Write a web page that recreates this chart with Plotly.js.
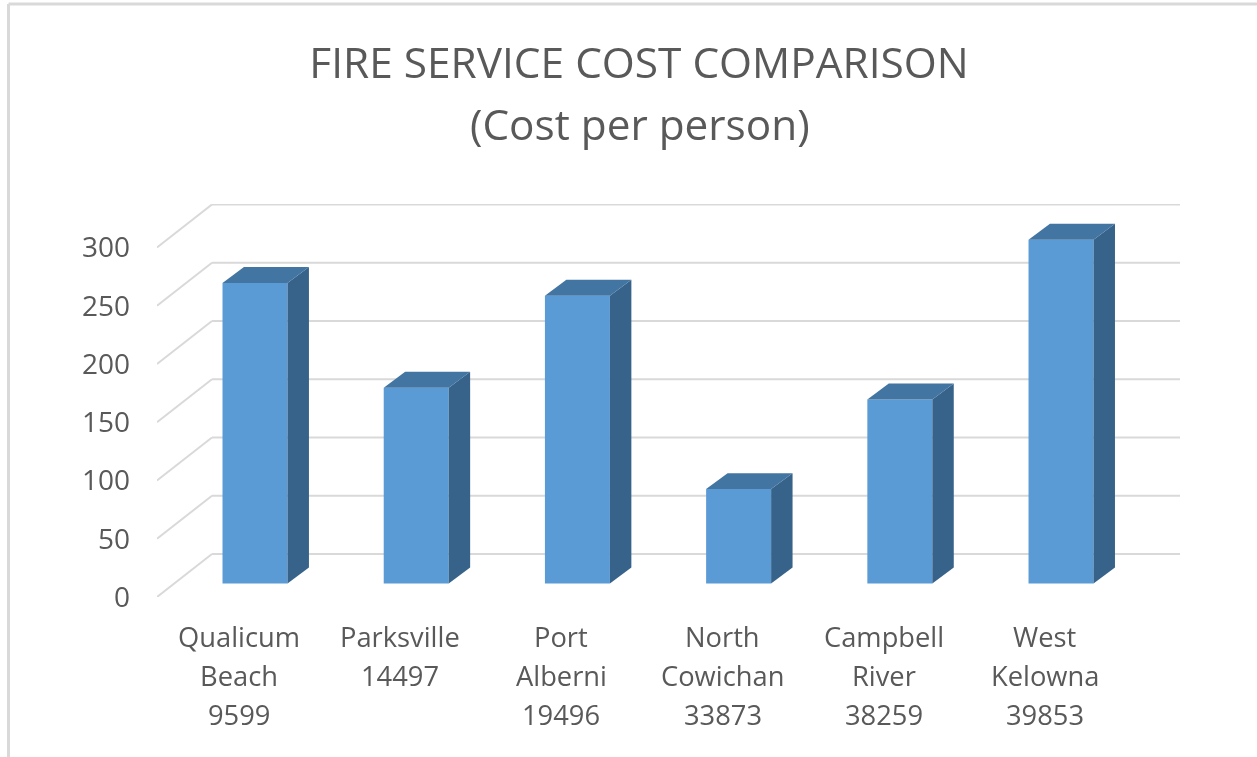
<!DOCTYPE html>
<html>
<head>
<meta charset="utf-8">
<script src="https://cdn.plot.ly/plotly-3.0.1.min.js"></script>
<style>html,body{margin:0;padding:0;background:#fff;overflow:hidden}#chart{width:1257px;height:757px;filter:blur(0.4px)}</style>
</head>
<body>
<div id="chart"></div>
<script>
const titleLine1 = "FIRE SERVICE COST COMPARISON";
const titleLine2 = "(Cost per person)";
const municipalities = ["Qualicum Beach", "Parksville", "Port Alberni", "North Cowichan", "Campbell River", "West Kelowna"];
const labelLines = [
  ["Qualicum", "Beach", "9599"],
  ["Parksville", "14497"],
  ["Port", "Alberni", "19496"],
  ["North", "Cowichan", "33873"],
  ["Campbell", "River", "38259"],
  ["West", "Kelowna", "39853"]
];
const costPerPerson = [258, 168, 247, 81, 158, 295];
const yTicks = [0, 50, 100, 150, 200, 250, 300];

// fake-3D view parameters, in axis units
const xMin = -0.608, xMax = 5.738;
const yMax = 337.3;
const wallDx = 0.341, wallDy = 36.9;
const barHalf = 0.2016, barBase = 11.6, depthDx = 0.133, depthDy = 13.7;
const labelOffset = -0.1;

const TEXT = "#595959", GRID = "#d9d9d9", FONT = '"Open Sans","Noto Sans",sans-serif';
const W = 1257, H = 757, L = 157, R = 77, T = 204, B = 160;
const px = p => (p - L) / (W - L - R);
const py = p => (H - B - p) / (H - B - T);

const xs = municipalities.map((_, i) => i);

const traces = [{
  type: "bar", x: xs, y: costPerPerson, base: barBase, width: 2 * barHalf,
  marker: {color: "#5B9BD5", line: {width: 0}}, name: "Front", hoverinfo: "y", showlegend: false
}];
costPerPerson.forEach((v, i) => {
  const l = i - barHalf, r = i + barHalf, b = barBase, t = barBase + v;
  traces.push({
    type: "scatter", mode: "lines", fill: "toself", fillcolor: "#37638A",
    line: {width: 0, color: "#37638A"}, hoverinfo: "skip", showlegend: false,
    x: [r, r + depthDx, r + depthDx, r, r],
    y: [b, b + depthDy, t + depthDy, t, b]
  });
  traces.push({
    type: "scatter", mode: "lines", fill: "toself", fillcolor: "#4375A2",
    line: {width: 0, color: "#4375A2"}, hoverinfo: "skip", showlegend: false,
    x: [l, l + depthDx, r + depthDx, r, l],
    y: [t, t + depthDy, t + depthDy, t, t]
  });
});

const shapes = [];
yTicks.forEach(v => {
  shapes.push({type: "line", layer: "below", xref: "x", yref: "y", x0: xMin, y0: v, x1: xMin + wallDx, y1: v + wallDy, line: {color: GRID, width: 2}});
  shapes.push({type: "line", layer: "below", xref: "x", yref: "y", x0: xMin + wallDx, y0: v + wallDy, x1: xMax, y1: v + wallDy, line: {color: GRID, width: 2}});
});
// outer chart frame (top and left edges)
shapes.push({type: "line", xref: "paper", yref: "paper", x0: px(8.5), y0: py(4), x1: px(1257), y1: py(4), line: {color: "#d9d9d9", width: 3}});
shapes.push({type: "line", xref: "paper", yref: "paper", x0: px(8.5), y0: py(4), x1: px(8.5), y1: py(757), line: {color: "#d9d9d9", width: 3}});

const annotations = [{
  xref: "paper", yref: "paper", x: px(640), y: py(123), xanchor: "center", yanchor: "middle",
  text: titleLine2, showarrow: false, font: {family: FONT, size: 42.3, color: TEXT}
}];
const lineRows = [39, 78, 117];
labelLines.forEach((lines, i) => {
  lines.forEach((txt, k) => {
    annotations.push({
      xref: "x", yref: "paper", x: i + labelOffset, y: 0, yshift: -lineRows[k], xanchor: "center", yanchor: "middle",
      text: txt, showarrow: false, font: {family: FONT, size: 27.3, color: TEXT}
    });
  });
});

const layout = {
  width: W, height: H,
  margin: {l: L, r: R, t: T, b: B, pad: 0},
  paper_bgcolor: "#fff", plot_bgcolor: "rgba(0,0,0,0)",
  showlegend: false, hovermode: "closest",
  title: {text: titleLine1, x: px(639), xref: "paper", xanchor: "center", y: 1 - 63 / H, yref: "container", yanchor: "middle",
          font: {family: FONT, size: 42.4, color: TEXT}},
  xaxis: {range: [xMin, xMax], showgrid: false, zeroline: false, showline: false, showticklabels: false, ticks: "", fixedrange: true},
  yaxis: {range: [0, yMax], tickmode: "array", tickvals: yTicks, ticktext: yTicks.map(String), showgrid: false, zeroline: false, showline: false,
          ticks: "", ticklabelstandoff: 26, tickfont: {family: FONT, size: 28, color: TEXT}, fixedrange: true},
  shapes, annotations
};
Plotly.newPlot("chart", traces, layout, {displayModeBar: false});
</script>
</body>
</html>
